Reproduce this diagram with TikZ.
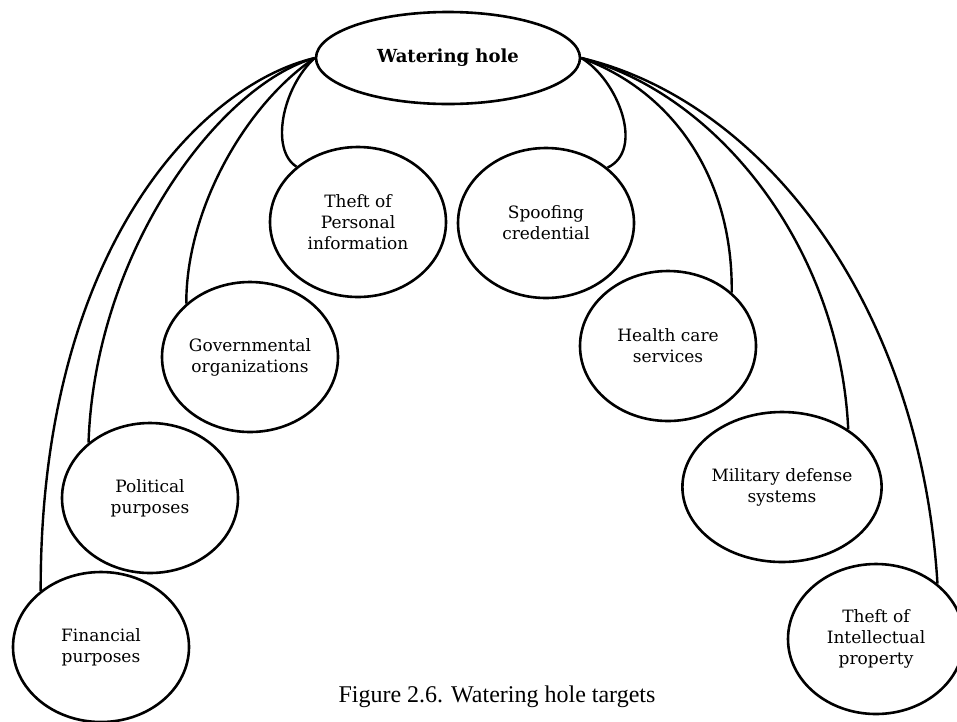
\documentclass[tikz,border=0pt]{standalone}
\usepackage{fontspec}
\setmainfont{DejaVu Serif}
\newfontfamily\captionfont{Liberation Serif}
\usetikzlibrary{shapes.geometric}
\begin{document}
\begin{tikzpicture}[x=1pt,y=-1pt,
  target/.style={ellipse,draw,line width=2.6pt,inner sep=0pt,
    minimum width=176pt,minimum height=150pt,align=center,
    font=\fontsize{17}{21}\selectfont},
  hub/.style={ellipse,draw,line width=2.6pt,inner sep=0pt,
    minimum width=264pt,minimum height=92pt,
    font=\fontsize{18}{22}\selectfont\bfseries},
  link/.style={line width=2.4pt}]
\useasboundingbox (0,0) rectangle (957,721);

% central node
\node[hub] (wh) at (448,58) {Watering hole};

% targets
\node[target] (tp) at (358,222) {Theft of\\Personal\\information};
\node[target] (sc) at (546,223) {Spoofing\\credential};
\node[target] (go) at (250,357) {Governmental\\organizations};
\node[target] (po) at (150,498) {Political\\purposes};
\node[target] (fi) at (101,647) {Financial\\purposes};
\node[target] (hc) at (668,346) {Health care\\services};
\node[target] (md) at (782,487) {Military defense\\systems};
\node[target] (ti) at (876,639) {Theft of\\Intellectual\\property};

% connectors, left side
\draw[link] (wh.west) .. controls (282,88) and (270,150) .. (tp.138);
\draw[link] (wh.west) .. controls (245,105) and (186,210) .. (go.140);
\draw[link] (wh.west) .. controls (220,85) and (95,250) .. (po.138);
\draw[link] (wh.west) .. controls (200,85) and (40,250) .. (fi.137);

% connectors, right side
\draw[link] (wh.east) .. controls (618,80) and (645,150) .. (sc.42);
\draw[link] (wh.east) .. controls (675,92) and (733,180) .. (hc.40);
\draw[link] (wh.east) .. controls (720,95) and (840,250) .. (md.41);
\draw[link] (wh.east) .. controls (760,100) and (920,300) .. (ti.42);

% caption
\node[font=\captionfont\fontsize{24}{28}\selectfont,anchor=base west]
  (cap) at (335,702) {Figure 2.6. Watering hole targets};
\end{tikzpicture}
\end{document}
